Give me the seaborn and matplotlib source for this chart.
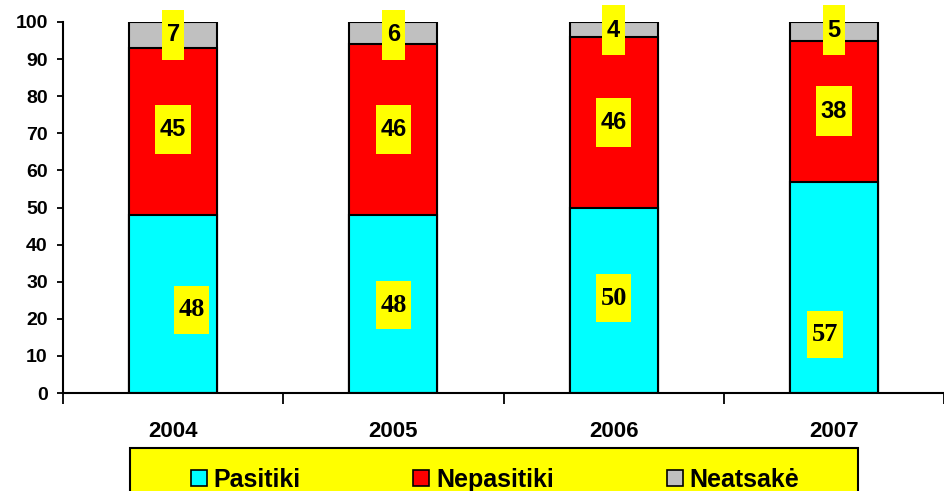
import numpy as np
import matplotlib
matplotlib.use("Agg")
import matplotlib.pyplot as plt
from matplotlib.path import Path
from matplotlib.patches import Rectangle, Patch
import seaborn as sns

# ---- data ----
years = ["2004", "2005", "2006", "2007"]
pasitiki = [48, 48, 50, 57]
nepasitiki = [45, 46, 46, 38]
neatsake = [7, 6, 4, 5]
series_names = ["Pasitiki", "Nepasitiki", "Neatsakė"]

# ---- label placement (layout only) ----
lab_y_pas = [22.4, 23.7, 25.6, 15.8]
lab_dx_pas = [0.083, 0.0, 0.0, -0.04]
lab_y_nep = [71.0, 71.0, 72.9, 76.0]
lab_y_nea = [96.5, 96.5, 97.8, 97.8]

colors = ["#00FFFF", "#FF0000", "#C0C0C0"]

sns.set_theme(style="white")
plt.rcParams["font.family"] = ["Liberation Sans", "DejaVu Sans"]
plt.rcParams["font.weight"] = "bold"
plt.rcParams["text.color"] = "black"
plt.rcParams["xtick.color"] = "black"
plt.rcParams["ytick.color"] = "black"
plt.rcParams["axes.labelcolor"] = "black"

fig = plt.figure(figsize=(9.44, 4.91), dpi=100)
L = 63
ax = fig.add_axes([L / 944, 1 - 393 / 491, (944 - L) / 944, (393 - 22) / 491])

layers = np.array([pasitiki, nepasitiki, neatsake], dtype=float)
cum = np.cumsum(layers, axis=0)

# draw from the tallest (total) down so stacks appear
for i in range(2, -1, -1):
    sns.barplot(x=years, y=cum[i], color=colors[i], saturation=1, width=0.4,
                edgecolor="black", linewidth=1.5, ax=ax, zorder=2)


def make_box(fx, fy):
    def yellow_box(x0, y0, width, height, mutation_size):
        px = fx * mutation_size
        py = fy * mutation_size
        x0 -= px
        x1 = x0 + width + 2 * px
        y0 -= py
        y1 = y0 + height + 2 * py
        return Path([(x0, y0), (x1, y0), (x1, y1), (x0, y1), (x0, y0)], closed=True)
    return dict(boxstyle=yellow_box, facecolor="#FFFF00", edgecolor="none")


box_sans = make_box(0.2, 0.56)
box_serif = make_box(0.17, 0.46)

for j in range(len(years)):
    ax.text(j + lab_dx_pas[j], lab_y_pas[j], str(pasitiki[j]), ha="center", va="center",
            fontsize=19, fontweight="bold", family=["Liberation Serif", "DejaVu Serif"],
            bbox=box_serif, zorder=5)
    ax.text(j, lab_y_nep[j], str(nepasitiki[j]), ha="center", va="center",
            fontsize=17, fontweight="bold", bbox=box_sans, zorder=5)
    ax.text(j, lab_y_nea[j], str(neatsake[j]), ha="center", va="center",
            fontsize=17, fontweight="bold", bbox=box_sans, zorder=5, clip_on=False)

ax.set_ylim(0, 100)
ax.set_xlim(-0.5, -0.5 + (944 - L) / 222)
ax.set_yticks(np.arange(0, 101, 10))
ax.set_xticks(range(len(years)))
ax.set_xticklabels(years)
ax.set_xticks(np.arange(-0.5, len(years), 1.0), minor=True)
ax.tick_params(axis="x", which="major", length=0, pad=20, labelsize=16)
ax.tick_params(axis="x", which="minor", length=8, width=1.3, color="black", direction="out", bottom=True)
ax.tick_params(axis="y", which="major", length=4, width=1.3, color="black", direction="out",
               pad=7, labelsize=14, left=True)
for lab in ax.get_xticklabels() + ax.get_yticklabels():
    lab.set_fontweight("bold")
ax.set_xlabel("")
ax.set_ylabel("")
for s in ["top", "right"]:
    ax.spines[s].set_visible(False)
for s in ["left", "bottom"]:
    ax.spines[s].set_color("black")
    ax.spines[s].set_linewidth(1.5)
ax.grid(False)

# legend background box
fig.patches.append(Rectangle((130 / 944, -0.05), 728 / 944, (491 - 448) / 491 + 0.05,
                             transform=fig.transFigure, facecolor="#FFFF00",
                             edgecolor="black", linewidth=1.5, zorder=0))

handles = [Patch(facecolor=c, edgecolor="black", linewidth=1.2) for c in colors]
leg = fig.legend(handles, series_names, loc="center", bbox_to_anchor=(495 / 944, 1 - 480 / 491),
                 ncol=3, frameon=False, prop=dict(family="Liberation Sans", weight="bold", size=18),
                 handlelength=0.64, handleheight=0.64, handletextpad=0.28, columnspacing=4.5,
                 borderpad=0, borderaxespad=0)

fig.savefig("out.png", dpi=100)
